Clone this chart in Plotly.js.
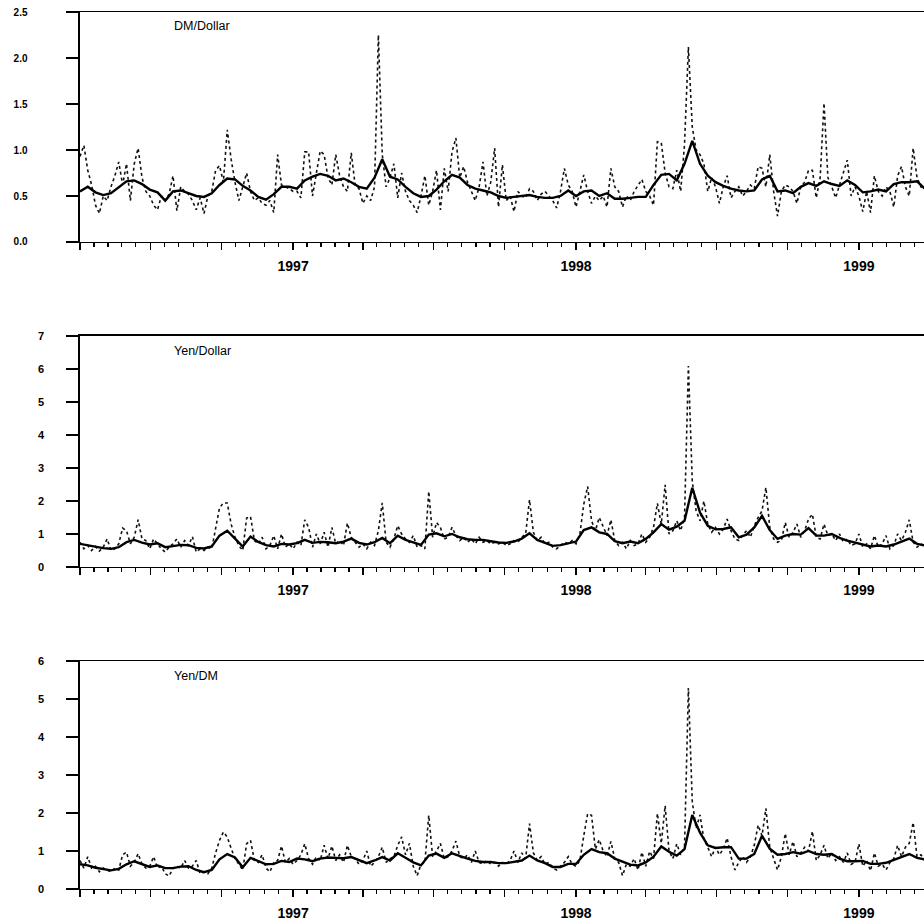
<!DOCTYPE html>
<html>
<head>
<meta charset="utf-8">
<script src="https://cdn.plot.ly/plotly-3.0.1.min.js"></script>
<style>
  body { margin: 0; background: #fff; }
  #chart { width: 924px; height: 924px; }
</style>
</head>
<body>
<div id="chart"></div>
<script>
// sampling of the series (dotted every 5 days, solid every 10 days)
var startDay = Date.UTC(1996, 3, 1);
var dottedStep = 5;
var solidStep = 10;

var panelNames = ['DM/Dollar', 'Yen/Dollar', 'Yen/DM'];

// DM/Dollar
var dmDollarDotted = [
  0.93,1.05,0.78,0.62,0.40,0.31,0.50,0.45,0.60,0.72,0.87,0.62,0.85,0.45,0.85,1.02,0.70,0.55,0.50,0.40,
  0.35,0.50,0.45,0.52,0.72,0.34,0.60,0.55,0.52,0.45,0.35,0.48,0.31,0.50,0.55,0.78,0.83,0.65,1.22,0.90,
  0.65,0.45,0.60,0.75,0.55,0.45,0.48,0.42,0.40,0.45,0.32,0.95,0.62,0.60,0.58,0.55,0.55,0.48,0.98,0.98,
  0.50,0.75,0.99,0.95,0.70,0.62,0.95,0.72,0.60,0.55,0.97,0.62,0.58,0.42,0.50,0.45,0.60,2.25,0.95,0.60,
  0.70,0.85,0.48,0.75,0.55,0.45,0.40,0.32,0.50,0.72,0.40,0.55,0.78,0.35,0.80,0.55,0.98,1.13,0.70,0.82,
  0.65,0.55,0.45,0.60,0.87,0.50,0.65,1.02,0.38,0.84,0.45,0.50,0.33,0.55,0.50,0.48,0.58,0.55,0.45,0.52,
  0.55,0.50,0.45,0.37,0.55,0.80,0.62,0.55,0.38,0.55,0.73,0.55,0.42,0.50,0.45,0.50,0.38,0.80,0.60,0.55,
  0.38,0.50,0.45,0.55,0.62,0.68,0.55,0.50,0.40,1.09,1.08,0.75,0.60,0.58,0.78,0.55,1.06,2.12,1.25,1.00,
  0.95,0.85,0.55,0.70,0.60,0.42,0.60,0.72,0.48,0.55,0.60,0.50,0.55,0.62,0.58,0.82,0.80,0.60,0.95,0.55,
  0.28,0.55,0.62,0.60,0.55,0.42,0.60,0.65,0.78,0.78,0.48,0.70,1.51,0.70,0.60,0.48,0.62,0.75,0.89,0.50,
  0.60,0.50,0.33,0.55,0.32,0.72,0.55,0.50,0.60,0.55,0.38,0.72,0.82,0.60,0.50,1.02,0.70,0.60,0.58
];
var dmDollarSolid = [
  0.55,0.60,0.54,0.51,0.53,0.59,0.66,0.67,0.63,0.57,0.54,0.45,0.55,0.56,0.53,0.50,0.49,0.53,0.62,0.69,
  0.68,0.61,0.56,0.49,0.46,0.52,0.60,0.60,0.58,0.67,0.71,0.74,0.72,0.67,0.69,0.65,0.60,0.58,0.70,0.90,
  0.71,0.68,0.60,0.53,0.49,0.50,0.57,0.66,0.73,0.70,0.62,0.58,0.56,0.54,0.50,0.48,0.49,0.50,0.51,0.49,
  0.48,0.48,0.50,0.56,0.50,0.55,0.56,0.50,0.53,0.47,0.47,0.48,0.49,0.49,0.62,0.73,0.74,0.67,0.85,1.10,
  0.85,0.72,0.65,0.61,0.58,0.56,0.55,0.56,0.68,0.72,0.55,0.56,0.53,0.60,0.64,0.61,0.66,0.63,0.61,0.67,
  0.62,0.54,0.55,0.57,0.55,0.63,0.65,0.65,0.66,0.58
];

// Yen/Dollar
var yenDollarDotted = [
  0.75,0.55,0.65,0.50,0.62,0.48,0.60,0.85,0.50,0.55,0.70,1.18,1.10,0.70,0.90,1.43,0.85,0.80,0.55,0.85,
  0.70,0.55,0.45,0.60,0.70,0.85,0.60,0.80,0.65,0.92,0.45,0.55,0.50,0.60,0.55,1.20,1.79,1.94,1.94,1.30,
  0.90,0.65,0.50,1.48,1.53,0.80,0.70,0.90,0.55,0.65,0.95,0.55,1.00,0.60,0.70,0.55,0.75,0.65,1.43,1.20,
  0.60,1.00,0.70,1.05,0.60,1.20,0.70,0.80,0.65,1.33,0.90,0.75,0.60,0.70,0.55,0.75,0.65,1.10,1.94,0.75,
  0.60,0.85,1.25,1.00,0.85,0.75,0.95,0.60,0.65,0.55,2.29,0.90,1.35,1.20,0.85,0.90,1.20,0.95,0.80,0.90,
  0.75,0.85,0.70,0.90,0.75,0.80,0.70,0.75,0.70,0.75,0.65,0.70,0.80,0.75,0.90,1.00,2.04,1.05,0.80,0.90,
  0.70,0.75,0.60,0.55,0.65,0.75,0.70,0.80,0.70,1.00,1.90,2.44,1.40,1.10,1.50,1.20,0.95,1.43,0.80,0.65,
  0.75,0.55,0.80,0.65,0.70,1.00,0.75,0.90,1.20,1.93,1.30,2.49,1.00,1.10,1.40,1.10,1.50,6.09,2.60,1.70,
  1.40,2.00,1.30,1.05,1.20,1.00,1.15,1.45,1.10,0.85,0.80,0.95,1.10,0.90,1.25,1.50,1.70,2.41,1.20,0.85,
  0.75,0.80,1.35,0.90,1.05,1.30,0.90,1.10,1.45,1.60,0.90,0.85,1.30,0.95,1.00,0.80,1.00,0.75,0.85,0.65,
  0.70,1.00,0.60,0.70,0.55,0.95,0.60,0.70,0.95,0.55,0.65,1.00,0.80,1.05,1.43,0.75,0.60,0.70,0.62
];
var yenDollarSolid = [
  0.70,0.66,0.60,0.57,0.55,0.60,0.75,0.82,0.74,0.68,0.72,0.60,0.63,0.67,0.66,0.58,0.56,0.62,0.95,1.10,
  0.86,0.62,0.92,0.76,0.66,0.62,0.70,0.68,0.72,0.82,0.73,0.76,0.75,0.72,0.77,0.86,0.73,0.68,0.75,0.88,
  0.72,0.95,0.82,0.74,0.67,0.98,1.02,0.93,1.00,0.90,0.84,0.82,0.82,0.78,0.74,0.73,0.77,0.86,1.02,0.82,
  0.74,0.64,0.66,0.72,0.77,1.12,1.20,1.05,1.00,0.78,0.72,0.77,0.72,0.85,1.05,1.30,1.13,1.22,1.40,2.40,
  1.65,1.25,1.14,1.15,1.20,0.90,0.98,1.20,1.55,1.12,0.85,0.95,1.00,0.98,1.18,0.95,0.95,1.00,0.88,0.80,
  0.74,0.70,0.62,0.65,0.62,0.68,0.78,0.86,0.70,0.65
];

// Yen/DM
var yenDmDotted = [
  0.75,0.55,0.85,0.55,0.60,0.45,0.55,0.50,0.45,0.55,0.50,0.90,0.97,0.60,0.70,0.93,0.65,0.55,0.60,0.85,
  0.55,0.60,0.40,0.34,0.55,0.60,0.55,0.75,0.55,0.60,0.75,0.40,0.45,0.40,0.55,0.95,1.28,1.50,1.37,1.07,
  0.80,0.65,0.50,1.19,1.28,0.75,0.70,0.90,0.55,0.45,0.70,0.75,1.13,0.70,0.80,0.65,0.75,0.90,1.19,0.80,
  0.65,0.85,0.75,1.15,0.80,1.13,0.75,0.90,0.70,1.15,0.85,0.80,0.65,0.75,1.00,0.60,0.70,0.85,1.10,0.70,
  0.80,0.85,1.15,1.37,0.90,1.20,0.60,0.35,0.65,0.70,1.94,0.85,1.00,1.20,0.80,0.85,1.00,1.26,0.85,0.80,
  0.90,0.70,1.00,0.70,0.65,0.75,0.65,0.70,0.60,0.70,0.65,0.75,1.00,0.70,0.95,0.80,1.72,0.95,0.75,0.85,
  0.65,0.70,0.55,0.50,0.60,0.70,0.85,0.65,0.60,0.75,1.40,1.98,1.94,1.05,1.30,1.00,0.85,1.25,0.80,0.70,
  0.35,0.65,0.60,0.80,0.50,0.97,0.60,0.99,0.80,1.99,1.20,2.19,1.00,0.80,1.19,0.90,1.10,5.29,2.30,1.59,
  1.95,1.30,1.10,0.85,1.10,0.90,1.05,1.34,0.85,0.50,0.70,0.85,0.70,0.85,1.15,1.68,1.40,2.12,1.10,0.80,
  0.50,0.85,1.46,0.90,1.25,0.85,0.95,1.10,1.00,1.52,0.75,0.90,1.15,0.80,0.95,0.75,0.85,0.70,0.95,0.65,
  0.70,1.19,0.60,0.75,0.48,0.95,0.60,0.65,0.50,0.70,0.80,1.15,0.85,1.10,1.20,1.75,0.85,0.90,0.75
];
var yenDmSolid = [
  0.65,0.62,0.56,0.52,0.49,0.53,0.65,0.73,0.66,0.58,0.62,0.55,0.55,0.59,0.60,0.50,0.44,0.50,0.78,0.92,
  0.83,0.57,0.82,0.73,0.65,0.66,0.74,0.71,0.80,0.78,0.73,0.80,0.83,0.82,0.81,0.84,0.76,0.68,0.75,0.84,
  0.75,0.94,0.82,0.70,0.62,0.88,0.93,0.82,0.94,0.86,0.80,0.74,0.71,0.71,0.68,0.68,0.71,0.75,0.88,0.75,
  0.68,0.58,0.58,0.66,0.66,0.90,1.05,0.97,0.94,0.80,0.72,0.64,0.62,0.70,0.85,1.12,0.98,0.88,1.05,1.95,
  1.48,1.15,1.08,1.10,1.10,0.80,0.80,0.92,1.40,1.06,0.90,0.92,0.97,0.93,1.00,0.92,0.90,0.92,0.80,0.73,
  0.73,0.74,0.66,0.66,0.69,0.76,0.85,0.92,0.82,0.78
];

// x axis ticks: quarters, labelled at the start of each year
var quarterTicks = ['1996-04-01','1996-07-01','1996-10-01','1997-01-01','1997-04-01','1997-07-01',
  '1997-10-01','1998-01-01','1998-04-01','1998-07-01','1998-10-01','1999-01-01','1999-04-01'];
var quarterText = ['','','','1997','','','','1998','','','','1999',''];

function dates(n, step) {
  var out = [];
  for (var i = 0; i < n; i++) {
    out.push(new Date(startDay + i * step * 864e5).toISOString().slice(0, 10));
  }
  return out;
}

// four minor ticks inside each quarter
var minorTicks = [];
for (var q = 0; q < quarterTicks.length - 1; q++) {
  var a = Date.parse(quarterTicks[q]), b = Date.parse(quarterTicks[q + 1]);
  for (var k = 1; k < 5; k++) {
    minorTicks.push(new Date(a + (b - a) * k / 5).toISOString().slice(0, 10));
  }
}

var font = 'Liberation Sans, Arial, Helvetica, sans-serif';
var series = [
  [dmDollarDotted, dmDollarSolid],
  [yenDollarDotted, yenDollarSolid],
  [yenDmDotted, yenDmSolid]
];

var data = [];
series.forEach(function (s, p) {
  var xa = p === 0 ? 'x' : 'x' + (p + 1);
  var ya = p === 0 ? 'y' : 'y' + (p + 1);
  data.push({
    type: 'scatter', mode: 'lines', x: dates(s[0].length, dottedStep), y: s[0],
    xaxis: xa, yaxis: ya, line: {color: '#111', width: 1.6, dash: 'dot'}, hoverinfo: 'skip'
  });
  data.push({
    type: 'scatter', mode: 'lines', x: dates(s[1].length, solidStep), y: s[1],
    xaxis: xa, yaxis: ya, line: {color: '#000', width: 2.4}, hoverinfo: 'skip'
  });
});

function xAxis(anchor, standoff) {
  return {
    anchor: anchor, type: 'date', range: ['1996-04-01', '1999-03-26'],
    tickmode: 'array', tickvals: quarterTicks, ticktext: quarterText,
    ticks: 'outside', ticklen: 7, tickwidth: 1.3, tickcolor: '#000',
    minor: {tickmode: 'array', tickvals: minorTicks, ticks: 'outside', ticklen: 4, tickwidth: 1.2, tickcolor: '#000'},
    showline: true, linecolor: '#000', linewidth: 1.5, mirror: true,
    showgrid: false, zeroline: false, automargin: false,
    ticklabelstandoff: standoff,
    tickfont: {family: font, size: 14, color: '#000', weight: 'bold'}
  };
}

function yAxis(anchor, domain, range, dtick, fmt, lw, standoff, size) {
  return {
    anchor: anchor, domain: domain, range: range, dtick: dtick, tick0: 0, tickformat: fmt,
    ticks: 'outside', ticklen: 12, tickwidth: 1.2, tickcolor: '#000',
    showline: true, linecolor: '#000', linewidth: lw,
    showgrid: false, zeroline: false, automargin: false,
    ticklabelstandoff: standoff,
    tickfont: {family: font, size: size, color: '#000', weight: 'bold'}
  };
}

var layout = {
  width: 924, height: 924,
  margin: {l: 80, r: 0, t: 0, b: 0},
  paper_bgcolor: '#fff', plot_bgcolor: '#fff',
  showlegend: false,
  xaxis: xAxis('y', 4),
  xaxis2: xAxis('y2', 3),
  xaxis3: xAxis('y3', 4),
  yaxis: yAxis('x', [0.7381, 0.9870], [0, 2.5], 0.5, '.1f', 2.5, 36, 10),
  yaxis2: yAxis('x2', [0.3864, 0.6364], [0, 7], 1, 'd', 1.6, 20, 11),
  yaxis3: yAxis('x3', [0.0379, 0.2846], [0, 6], 1, 'd', 1.6, 20, 11),
  annotations: panelNames.map(function (name, p) {
    var ys = [0.9719, 0.6201, 0.2684];
    return {
      text: name, xref: 'paper', yref: 'paper', x: 0.109, y: ys[p],
      xanchor: 'left', yanchor: 'middle', showarrow: false,
      font: {family: font, size: 12.5, color: '#000'}
    };
  })
};

Plotly.newPlot('chart', data, layout, {staticPlot: true, displayModeBar: false});
</script>
</body>
</html>
